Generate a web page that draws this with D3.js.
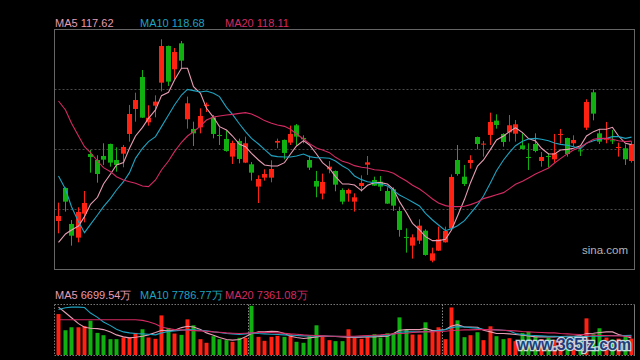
<!DOCTYPE html>
<html lang="en">
<head>
 <meta charset="UTF-8" />
 <title>K线图</title>
 <script src="https://d3js.org/d3.v7.min.js"></script>
 <style>
   html, body { margin: 0; padding: 0; background: #000; }
   svg { display: block; background-color: #000; }
   text { font-family: "Liberation Sans", Arial, sans-serif; }
 </style>
</head>
<body>
 <svg id="chart" width="640" height="360"></svg>

 <script>
   // daily OHLC
   const opens = [106.80,111.48,106.38,104.44,107.84,116.29,115.44,116.01,117.71,115.44,
     116.34,119.13,122.67,127.20,120.78,123.14,126.40,131.59,128.29,131.97,
     121.21,119.84,120.07,123.09,121.49,118.99,118.42,115.92,118.14,115.07,
     114.83,111.67,112.94,112.94,117.90,118.28,117.90,120.36,118.56,115.44,
     112.47,110.68,114.12,113.89,111.19,110.68,109.54,111.76,114.78,112.61,
     112.37,111.05,111.29,108.22,104.54,103.31,104.02,105.43,101.18,102.60,
     103.78,105.76,115.44,113.08,115.02,118.70,117.62,118.99,121.02,119.13,
     119.36,119.17,117.52,115.87,117.71,115.30,116.01,115.54,118.99,118.56,
     117.81,116.81,120.02,125.03,119.22,118.32,118.23,117.14,117.10,115.30];
   const highs = [109.40,111.57,106.94,108.74,111.05,116.86,116.11,117.81,117.76,117.24,
     117.57,123.24,124.98,128.19,123.19,124.60,132.54,131.65,131.31,132.30,
     124.42,120.87,122.76,123.57,121.82,120.07,119.55,118.18,118.47,118.75,
     115.16,113.27,114.12,115.40,118.47,118.35,120.31,120.54,118.94,116.06,
     113.89,113.51,115.30,113.95,111.43,111.38,110.72,113.27,116.01,113.08,
     113.18,111.57,111.57,108.83,105.76,104.91,107.04,105.62,103.02,106.00,
     106.00,113.41,117.57,114.74,116.11,118.75,118.14,122.15,121.91,119.22,
     121.82,121.11,119.22,117.81,119.22,116.58,116.39,119.13,119.84,118.60,
     118.94,117.33,124.04,125.45,119.79,120.83,119.69,117.90,117.66,118.09];
   const lows = [105.06,108.13,103.31,103.78,106.61,113.65,112.23,114.74,114.50,113.79,
     114.41,118.04,120.87,121.40,120.31,121.49,125.17,125.93,126.92,128.43,
     119.88,117.43,119.22,122.24,118.51,117.57,116.62,114.88,114.97,115.00,
     112.52,109.35,112.52,112.28,117.10,115.54,117.57,117.57,117.81,114.03,
     110.16,109.87,113.56,111.01,109.16,109.54,108.13,110.96,113.32,111.76,
     111.05,109.22,108.22,104.58,102.32,101.47,103.54,101.89,100.95,102.55,
     103.74,105.53,113.22,111.76,114.22,116.95,115.92,117.57,119.88,117.33,
     118.04,118.04,116.95,114.03,116.53,114.50,114.41,115.07,117.76,115.92,
     117.33,116.01,119.69,121.06,117.71,117.81,117.71,115.92,114.74,115.07];
   const closes = [107.51,109.54,104.72,108.08,109.35,115.87,113.46,115.49,115.07,114.74,
     117.29,121.96,123.94,121.44,121.44,123.71,131.59,126.54,130.74,129.52,
     123.47,119.22,121.68,123.28,119.13,118.84,116.72,117.85,115.59,117.81,
     113.65,112.75,113.46,114.17,118.14,116.44,119.13,118.75,118.37,114.36,
     111.67,112.33,114.50,111.95,109.54,111.19,110.16,112.19,115.11,111.81,
     111.67,109.26,108.98,105.53,104.44,104.49,106.14,101.99,102.22,104.21,
     105.39,113.04,113.46,112.04,115.44,117.71,117.76,120.83,120.40,117.99,
     120.36,120.50,117.00,115.73,116.72,115.87,115.87,116.39,119.13,116.29,
     118.28,116.67,123.66,122.01,118.04,118.47,118.09,117.29,115.54,117.71];

   // price moving averages
   const ma5 = [103.78,104.96,105.53,106.09,107.42,109.16,110.16,112.04,113.46,114.74,
     115.07,117.10,118.84,120.07,121.35,122.53,124.56,125.03,126.78,128.43,
     128.43,125.83,124.89,122.76,121.49,120.17,119.69,118.84,117.66,117.33,
     116.39,115.44,114.74,114.59,114.59,115.07,116.29,117.43,118.18,117.57,
     116.29,115.07,114.26,113.08,112.04,112.04,111.90,111.10,111.86,112.23,
     112.23,112.04,111.29,109.54,107.98,106.47,105.53,104.58,104.02,104.02,
     104.21,105.53,107.51,109.87,112.23,114.59,115.44,116.95,118.28,118.84,
     119.46,120.02,119.32,118.47,118.14,117.10,116.29,116.29,116.86,116.95,
     117.10,117.47,118.84,119.46,119.79,119.79,120.07,118.84,117.81,117.62];
   const ma10 = [113.18,111.29,108.83,106.71,105.15,106.33,107.65,108.83,110.01,111.19,
     112.37,113.65,115.68,117.10,118.04,118.75,120.17,121.82,123.24,124.65,
     125.45,125.27,125.08,125.22,124.89,124.42,122.90,121.91,120.54,119.46,
     118.51,117.71,116.95,116.06,115.92,115.87,115.87,116.01,116.29,115.92,
     115.77,115.77,115.68,115.30,114.59,114.12,113.18,112.66,112.37,112.23,
     112.04,111.76,111.10,110.49,109.97,109.49,108.93,107.89,106.94,106.24,
     105.43,105.72,106.14,106.85,107.89,109.07,110.34,112.23,113.93,115.44,
     116.53,117.47,118.09,118.42,118.51,118.37,118.18,117.85,117.66,117.52,
     117.33,117.05,117.81,118.18,118.37,118.51,118.75,118.75,118.51,118.68];
   const ma20 = [123.80,122.53,120.64,118.84,117.33,116.48,115.30,114.36,113.79,113.08,
     112.61,112.37,112.14,111.76,111.67,112.61,114.03,115.30,116.62,117.95,
     118.84,119.46,120.26,121.11,121.54,121.68,121.82,121.91,122.05,122.15,
     121.96,121.49,121.02,120.64,120.40,120.21,119.79,119.13,118.42,117.76,
     117.14,116.86,116.48,115.82,115.25,115.02,114.64,114.41,114.31,114.07,
     113.98,113.84,113.56,113.04,112.47,111.86,111.34,110.72,109.92,109.35,
     108.98,108.83,108.83,108.88,109.12,109.49,109.97,110.25,110.53,110.82,
     111.38,112.00,112.42,112.89,113.46,113.84,114.31,115.02,115.63,116.34,
     116.86,117.29,117.81,118.37,118.51,118.51,118.37,118.18,118.04,118.11];

   // volume in 万 and its moving averages
   const vols = [16207,9803,10979,10979,11502,13593,8757,7842,6274,6274,
     6927,6927,8757,10195,6927,6404,15684,10717,8496,7973,
     14116,11763,6274,4836,7450,6274,5882,5228,6796,6796,
     19474,7189,5620,7189,7581,7189,8234,5228,4836,7450,
     11763,7189,5882,5489,5489,10195,6796,6404,7058,8234,
     6927,8626,8496,14900,10064,8103,8103,12939,9541,10979,
     6274,18821,13724,7058,7842,9018,5882,11371,7450,6274,
     6666,5489,8757,9149,7200,6300,6800,6000,7000,6000,
     5300,5700,14510,8235,10588,6900,6200,6500,7400,6500];
   const vma5 = [18952,16730,14769,12417,10979,10587,10456,10064,9149,7973,
     7189,6796,7058,7450,7973,8888,9803,9541,9803,10848,
     11371,11110,10064,8757,7842,6927,6143,5882,6143,7189,
     8496,9149,9149,9410,9280,8496,7450,6927,6535,6796,
     7189,7450,7450,7319,7189,7058,6927,7058,7189,7189,
     7319,7450,8496,9803,10064,10064,10064,10456,9672,9803,
     10064,11502,12024,11110,11110,10979,9803,9149,8496,8496,
     8365,8103,7842,7581,7189,7189,7189,7189,7319,7450,
     7450,7711,8496,8626,8888,9149,9149,8103,7450,6699.54];
   const vma10 = [18037,18690,18952,18952,18821,16599,14900,13070,11632,10195,
     9149,8757,8496,8365,8234,7973,8757,9280,9541,9803,
     10064,9933,9803,9541,9149,8888,8496,8365,8103,8365,
     8757,8496,8365,8234,8103,7973,7842,7711,7581,7581,
     7581,7581,7450,7450,7319,7319,7189,7319,7450,7581,
     7711,7842,8234,9018,9149,9149,9149,9280,9410,9672,
     10064,10848,11240,11110,10848,10587,10195,10064,9933,9803,
     9541,8496,8103,7842,7711,7581,7450,7450,7319,7189,
     7189,7189,7319,7450,7450,7581,7711,7711,7711,7786.77];
   const vma20 = [13985,13985,13985,13985,13985,13985,13985,13985,13985,13985,
     13985,13985,13985,13724,13201,12286,11110,10456,10064,9933,
     9803,9672,9541,9410,9149,9018,8757,8626,8496,8626,
     8757,8888,8888,8888,8757,8626,8365,8234,7973,7842,
     7711,7581,7450,7450,7450,7450,7450,7581,7711,7842,
     7973,8234,8365,8496,8626,8888,9149,9149,9149,9280,
     9410,9672,9803,9933,9933,10064,10064,10064,9933,9803,
     9672,9541,9280,9149,9018,8888,8757,8757,8496,8365,
     8234,8103,7973,7842,7711,7711,7581,7581,7450,7361.08];

   // period breaks shown in the volume pane (index of first bar after the break)
   const periodBreaks = [30, 60];

   const priceDomain = [100, 134];
   const volDomain = [0, 20000];

   const UP = "#ff2112", DOWN = "#11b011";
   const C5 = "#e79db3", C10 = "#1ea3c1", C20 = "#d42a62";

   const svg = d3.select("#chart");
   const n = closes.length;
   const last = n - 1;

   const main = { left: 54.5, right: 634.5, top: 29.5, bottom: 269.5 };
   const volp = { top: 304.5, bottom: 355 };

   const x = d3.scaleBand()
     .domain(d3.range(n))
     .range([55, 634.5]);
   const cx = i => Math.round(x(i) + x.bandwidth() / 2);

   const y = d3.scaleLinear().domain(priceDomain).range([269, 29]);
   const yv = d3.scaleLinear().domain(volDomain).range([355, 304.5]);

   // ---- main pane frame + grid (quarters of the price range)
   const gridVals = [0.25, 0.5, 0.75].map(f => priceDomain[1] - f * (priceDomain[1] - priceDomain[0]));
   svg.append("g").selectAll("line")
     .data(gridVals)
     .enter().append("line")
       .attr("x1", main.left).attr("x2", main.right)
       .attr("y1", d => Math.round(y(d)) + 0.5)
       .attr("y2", d => Math.round(y(d)) + 0.5)
       .attr("stroke", "#4a4a4a")
       .attr("stroke-dasharray", "2,2");

   svg.append("rect")
     .attr("x", main.left).attr("y", main.top)
     .attr("width", main.right - main.left)
     .attr("height", main.bottom - main.top)
     .attr("fill", "none")
     .attr("stroke", "#666");

   svg.append("text")
     .attr("x", 582).attr("y", 254)
     .attr("font-size", "11.5px")
     .attr("fill", "#b4b4b4")
     .text("sina.com");

   // ---- candles
   const idx = d3.range(n);
   const isUp = i => closes[i] > opens[i];

   const candles = svg.append("g").selectAll("g")
     .data(idx)
     .enter().append("g");

   candles.append("line")
     .attr("x1", i => cx(i) + 0.5).attr("x2", i => cx(i) + 0.5)
     .attr("y1", i => y(highs[i])).attr("y2", i => y(lows[i]))
     .attr("stroke", i => isUp(i) ? UP : DOWN)
     .attr("stroke-width", 1);

   candles.append("rect")
     .attr("x", i => cx(i) - 2)
     .attr("width", 5)
     .attr("y", i => y(Math.max(opens[i], closes[i])))
     .attr("height", i => Math.max(1, Math.abs(y(opens[i]) - y(closes[i]))))
     .attr("fill", i => isUp(i) ? UP : DOWN);

   // ---- MA lines
   const priceLine = arr => d3.line()
     .x((d, i) => cx(i) + 0.5)
     .y(d => y(d))(arr);

   [[ma5, C5], [ma10, C10], [ma20, C20]].forEach(([arr, col]) => {
     svg.append("path")
       .attr("d", priceLine(arr))
       .attr("fill", "none")
       .attr("stroke", col)
       .attr("stroke-width", 1.1);
   });

   // ---- legends
   const legend = (yPos, items) => {
     const g = svg.append("g").attr("font-size", "11px");
     items.forEach(([label, col], k) => {
       g.append("text")
         .attr("x", 55 + k * 85)
         .attr("y", yPos)
         .attr("fill", col)
         .text(label);
     });
   };
   legend(27, [
     ["MA5 " + ma5[last].toFixed(2), C5],
     ["MA10 " + ma10[last].toFixed(2), C10],
     ["MA20 " + ma20[last].toFixed(2), C20]
   ]);
   legend(299, [
     ["MA5 " + vma5[last].toFixed(2) + "万", C5],
     ["MA10 " + vma10[last].toFixed(2) + "万", C10],
     ["MA20 " + vma20[last].toFixed(2) + "万", C20]
   ]);

   // ---- volume pane frame
   const vf = svg.append("g").attr("stroke", "#777").attr("stroke-dasharray", "1.5,1.5");
   vf.append("line").attr("x1", main.left).attr("x2", main.right).attr("y1", volp.top).attr("y2", volp.top);
   vf.append("line").attr("x1", main.left).attr("x2", main.right).attr("y1", volp.bottom + 0.5).attr("y2", volp.bottom + 0.5);
   vf.append("line").attr("x1", main.left).attr("x2", main.left).attr("y1", volp.top).attr("y2", volp.bottom);
   svg.append("line")
     .attr("x1", main.right).attr("x2", main.right)
     .attr("y1", volp.top).attr("y2", volp.bottom + 1)
     .attr("stroke", "#777");

   svg.append("g").selectAll("line")
     .data(periodBreaks)
     .enter().append("line")
       .attr("x1", i => Math.round((cx(i - 1) + cx(i)) / 2) + 0.5)
       .attr("x2", i => Math.round((cx(i - 1) + cx(i)) / 2) + 0.5)
       .attr("y1", volp.top).attr("y2", volp.bottom)
       .attr("stroke", "#888")
       .attr("stroke-dasharray", "1.5,1.5");

   // ---- volume bars
   svg.append("g").selectAll("rect")
     .data(idx)
     .enter().append("rect")
       .attr("x", i => cx(i) - 1.5)
       .attr("width", 4)
       .attr("y", i => yv(vols[i]))
       .attr("height", i => yv(0) - yv(vols[i]))
       .attr("fill", i => isUp(i) ? UP : DOWN);

   const volLine = arr => d3.line()
     .x((d, i) => cx(i) + 0.5)
     .y(d => yv(d))(arr);

   [[vma5, C5], [vma10, C10], [vma20, C20]].forEach(([arr, col]) => {
     svg.append("path")
       .attr("d", volLine(arr))
       .attr("fill", "none")
       .attr("stroke", col)
       .attr("stroke-width", 1.1);
   });

   // site watermark stamped over the volume pane
   svg.append("text")
     .attr("x", 517).attr("y", 350)
     .attr("font-size", "16px")
     .attr("font-weight", "bold")
     .attr("textLength", 114)
     .attr("lengthAdjust", "spacingAndGlyphs")
     .attr("fill", "#1d3c86")
     .attr("stroke", "#d8e6f2")
     .attr("stroke-width", 2.5)
     .attr("paint-order", "stroke")
     .attr("opacity", 0.9)
     .text("www.365jz.com");
 </script>
</body>
</html>
